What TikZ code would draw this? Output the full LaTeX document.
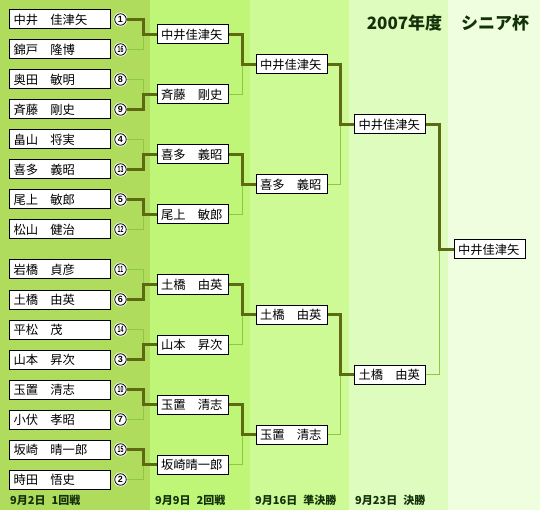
\documentclass[tikz,border=0pt]{standalone}
\usepackage{fontspec}
\usepackage{graphicx}
\newfontfamily\jp{Noto Sans CJK JP}
\newfontfamily\numf{Liberation Sans}
\definecolor{colA}{RGB}{176,220,94}
\definecolor{colB}{RGB}{192,246,120}
\definecolor{colC}{RGB}{206,250,150}
\definecolor{colD}{RGB}{222,252,190}
\definecolor{colE}{RGB}{238,254,222}
\definecolor{wincol}{RGB}{94,106,18}
\definecolor{losecol}{RGB}{140,200,64}
\definecolor{titlecol}{RGB}{20,50,10}
\newcommand{\twod}[1]{\scalebox{0.58}[1]{#1}}
\begin{document}
\begin{tikzpicture}[x=1pt,y=-1pt,
  namebox/.style={draw=black, line width=1pt, fill=white, anchor=west, minimum height=19pt, inner ysep=0pt, inner xsep=4pt, align=left, font=\jp\fontsize{12.3}{12.3}\selectfont},
  rone/.style={namebox, text width=93pt},
  rbox/.style={namebox, text width=63pt},
  seed/.style={circle, draw=black, line width=0.8pt, fill=white, inner sep=0pt, minimum size=11.5pt, font=\numf\bfseries\fontsize{9}{9}\selectfont, preaction={draw=white, line width=2.6pt}},
  win/.style={draw=wincol, line width=3pt, line join=miter},
  lose/.style={draw=losecol, line width=1pt},
  datelbl/.style={anchor=west, font=\jp\bfseries\fontsize{11}{11}\selectfont, text=titlecol, inner sep=0pt},
  titlelbl/.style={font=\jp\bfseries\fontsize{17}{17}\selectfont, text=titlecol, inner sep=0pt},
]
\useasboundingbox (0,0) rectangle (540,510);
\fill[colA] (0,0) rectangle (150,510);
\fill[colB] (150,0) rectangle (250,510);
\fill[colC] (250,0) rectangle (349,510);
\fill[colD] (349,0) rectangle (448,510);
\fill[colE] (448,0) rectangle (540,510);

\node[titlelbl] (t1) at (404.5,23.5) {2007年度};
\node[titlelbl] (t2) at (495,23.5) {シニア杯};

% round 1
\node[rone] (a0) at (9,19.5) {中井　佳津矢};
\node[rone] (a1) at (9,49.5) {錦戸　隆博};
\node[rone] (a2) at (9,79.5) {奥田　敏明};
\node[rone] (a3) at (9,109.5) {斉藤　剛史};
\node[rone] (a4) at (9,139.5) {畠山　将実};
\node[rone] (a5) at (9,169.5) {喜多　義昭};
\node[rone] (a6) at (9,199.5) {尾上　敏郎};
\node[rone] (a7) at (9,229.5) {松山　健治};
\node[rone] (a8) at (9,269.5) {岩橋　貞彦};
\node[rone] (a9) at (9,299.5) {土橋　由英};
\node[rone] (a10) at (9,329.5) {平松　茂};
\node[rone] (a11) at (9,359.5) {山本　昇次};
\node[rone] (a12) at (9,389.5) {玉置　清志};
\node[rone] (a13) at (9,419.5) {小伏　孝昭};
\node[rone] (a14) at (9,449.5) {坂崎　晴一郎};
\node[rone] (a15) at (9,479.5) {時田　悟史};

\node[seed] (s0) at (120.5,19.5) {1};
\node[seed] (s1) at (120.5,49.5) {\twod{16}};
\node[seed] (s2) at (120.5,79.5) {8};
\node[seed] (s3) at (120.5,109.5) {9};
\node[seed] (s4) at (120.5,139.5) {4};
\node[seed] (s5) at (120.5,169.5) {\twod{13}};
\node[seed] (s6) at (120.5,199.5) {5};
\node[seed] (s7) at (120.5,229.5) {\twod{12}};
\node[seed] (s8) at (120.5,269.5) {\twod{11}};
\node[seed] (s9) at (120.5,299.5) {6};
\node[seed] (s10) at (120.5,329.5) {\twod{14}};
\node[seed] (s11) at (120.5,359.5) {3};
\node[seed] (s12) at (120.5,389.5) {\twod{10}};
\node[seed] (s13) at (120.5,419.5) {7};
\node[seed] (s14) at (120.5,449.5) {\twod{15}};
\node[seed] (s15) at (120.5,479.5) {2};

% round 2
\node[rbox] (b0) at (156.5,34.5) {中井佳津矢};
\node[rbox] (b1) at (156.5,94.5) {斉藤　剛史};
\node[rbox] (b2) at (156.5,154.5) {喜多　義昭};
\node[rbox] (b3) at (156.5,214.5) {尾上　敏郎};
\node[rbox] (b4) at (156.5,284.5) {土橋　由英};
\node[rbox] (b5) at (156.5,344.5) {山本　昇次};
\node[rbox] (b6) at (156.5,404.5) {玉置　清志};
\node[rbox] (b7) at (156.5,464.5) {坂崎晴一郎};

% round 3
\node[rbox] (c0) at (255.5,64.5) {中井佳津矢};
\node[rbox] (c1) at (255.5,184.5) {喜多　義昭};
\node[rbox] (c2) at (255.5,314.5) {土橋　由英};
\node[rbox] (c3) at (255.5,434.5) {玉置　清志};

% semifinal
\node[rbox] (d0) at (354,124.5) {中井佳津矢};
\node[rbox] (d1) at (354,374.5) {土橋　由英};

% final
\node[rbox] (e0) at (453.5,249.5) {中井佳津矢};

% connectors round 1 -> 2
\foreach \w/\l/\t in {0/1/0, 3/2/1, 5/4/2, 6/7/3, 9/8/4, 11/10/5, 12/13/6, 14/15/7} {
  \draw[lose] (s\l.east) -- ++(17,0) |- (b\t.west);
  \draw[win] (s\w.east) -- ++(17,0) |- (b\t.west);
}
% round 2 -> 3
\foreach \w/\l/\t in {0/1/0, 2/3/1, 4/5/2, 6/7/3} {
  \draw[lose] (b\l.east) -- ++(14,0) |- (c\t.west);
  \draw[win] (b\w.east) -- ++(14,0) |- (c\t.west);
}
% round 3 -> 4
\foreach \w/\l/\t in {0/1/0, 2/3/1} {
  \draw[lose] (c\l.east) -- ++(13,0) |- (d\t.west);
  \draw[win] (c\w.east) -- ++(13,0) |- (d\t.west);
}
% semifinal -> final
\draw[lose] (d1.east) -- ++(13.5,0) |- (e0.west);
\draw[win] (d0.east) -- ++(13.5,0) |- (e0.west);

% date labels
\node[datelbl] (l1) at (10,500) {9月2日\hspace{6pt}1回戦};
\node[datelbl] (l2) at (155,500) {9月9日\hspace{6pt}2回戦};
\node[datelbl] (l3) at (255,500) {9月16日\hspace{6pt}準決勝};
\node[datelbl] (l4) at (355,500) {9月23日\hspace{6pt}決勝};
\end{tikzpicture}
\end{document}
